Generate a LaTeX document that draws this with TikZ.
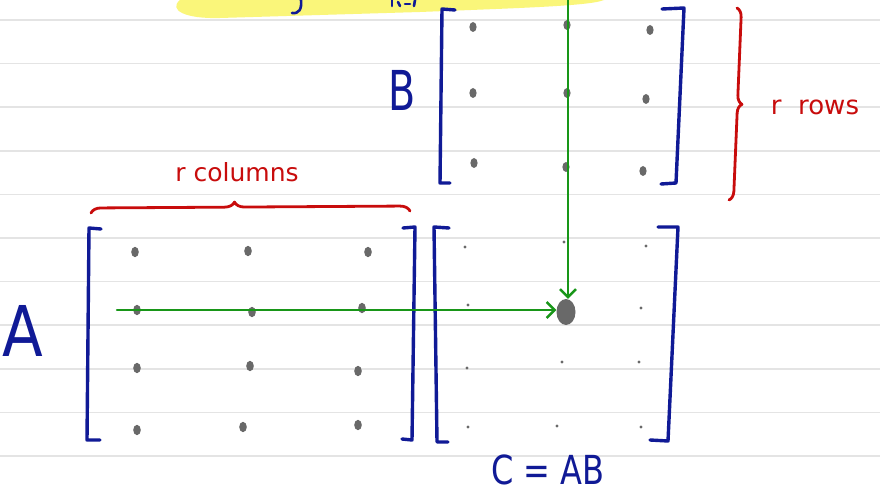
\documentclass[tikz,border=0pt]{standalone}
\usepackage{fontspec}
\setmainfont{DejaVu Sans}
\usepackage{tikz}
\usetikzlibrary{calc, shapes.geometric, positioning, decorations.pathreplacing, arrows.meta}

\definecolor{inkblue}{RGB}{16,26,150}
\definecolor{inkred}{RGB}{200,12,12}
\definecolor{inkgreen}{RGB}{24,150,24}
\definecolor{dotgray}{RGB}{105,105,105}
\definecolor{rulegray}{RGB}{228,228,228}
\definecolor{hiyellow}{RGB}{250,246,122}

\begin{document}
\begin{tikzpicture}[x=1pt, y=-1pt, >={Straight Barb[length=8pt,width=16pt]},
    line cap=round, line join=round,
    bracket/.style={draw=inkblue, line width=3.4pt},
    redbrace/.style={draw=inkred, line width=2.8pt, decorate},
    greenarrow/.style={draw=inkgreen, line width=2.4pt, ->},
    bigdot/.style={ellipse, fill=dotgray, minimum width=19pt, minimum height=26pt, inner sep=0pt},
    lbl/.style={inkblue, inner sep=0pt}]

    % =================================================================
    % 1. TRANG GIAY KE DONG
    % =================================================================
    \useasboundingbox (0,0) rectangle (880,497);
    \fill[white] (0,0) rectangle (880,497);
    \foreach \k in {0,...,10}
        \draw[rulegray, line width=1.5pt] (0,{20+43.6*\k}) -- (880,{20+43.6*\k});

    % vet da quang phia tren
    \fill[hiyellow] (180,0) .. controls (168,10) and (185,19) .. (220,18)
        -- (420,12) .. controls (520,8) and (590,6) .. (604,0) -- cycle;
    \draw[inkblue, line width=2.6pt] (301,0) .. controls (302,9) and (299,14) .. (292,13);
    \draw[inkblue, line width=2.6pt] (392,0) -- (392,6);
    \draw[inkblue, line width=2.6pt] (398,2) -- (400,6);
    \draw[inkblue, line width=2.6pt] (405,4) -- (410,4);
    \draw[inkblue, line width=2.6pt] (415,0) -- (414,6);

    % =================================================================
    % 2. CAC NGOAC VUONG CUA MA TRAN
    % =================================================================
    % ma tran B
    \draw[bracket] (455,10) -- (442,9) -- (440,183) -- (450,183);
    \draw[bracket] (662,9) -- (684,8) -- (676,183) -- (661,184);
    % ma tran A
    \draw[bracket] (101,229) -- (89,228) -- (87,440) -- (100,440);
    \draw[bracket] (403,228) -- (415,227) -- (412,440) -- (402,439);
    % ma tran C
    \draw[bracket] (449,228) -- (434,227) -- (437,442) -- (448,442);
    \draw[bracket] (658,227) -- (678,227) -- (668,441) -- (650,440);

    % =================================================================
    % 3. CAC PHAN TU (CHAM TRON XAM)
    % =================================================================
    \foreach \p in {(473,27),(567,25),(650,30),(473,93),(567,93),(646,99),
                    (474,163),(566,167),(643,171)}
        \fill[dotgray] \p ellipse (3.6 and 5);
    \foreach \p in {(135,252),(248,251),(368,252),(137,310),(252,312),(362,308),
                    (137,368),(250,366),(358,371),(137,430),(243,427),(358,425)}
        \fill[dotgray] \p ellipse (3.8 and 5.2);
    \foreach \p in {(465,247),(564,242),(646,246),(468,305),(641,308),
                    (467,368),(562,362),(639,362),(468,427),(557,426),(641,427)}
        \fill[dotgray] \p circle (1.6);
    \node[bigdot] (c22) at (566,312) {};

    % =================================================================
    % 4. MUI TEN XANH: HANG CUA A, COT CUA B
    % =================================================================
    \coordinate (arow) at (117,310);
    \coordinate (bcol) at (568,0);
    \draw[greenarrow] (arow) -- (arow -| c22.west);
    \draw[greenarrow] (bcol) -- (bcol |- c22.north);

    % =================================================================
    % 5. NGOAC NHON VA NHAN
    % =================================================================
    \draw[redbrace, decoration={brace, amplitude=10pt, aspect=0.45}] (91,213) -- (410,211);
    \draw[redbrace, decoration={brace, amplitude=9pt}] (737,8) -- (729,200);

    \node[inkred, font=\fontsize{25}{25}\selectfont] (rcols) at (237,172) {r columns};
    \node[inkred, font=\fontsize{26}{26}\selectfont] (rrows) at (815,107) {r\ \ rows};

    \node[lbl, font=\fontsize{55}{55}\selectfont] (Blbl) at (402,90) {\scalebox{0.72}[1]{B}};
    \node[lbl, font=\fontsize{70}{70}\selectfont] (Albl) at (23,331) {\scalebox{0.85}[1]{A}};
    \node[lbl, font=\fontsize{40}{40}\selectfont] (Clbl) at (548,470) {\scalebox{0.8}[1]{C = AB}};

\end{tikzpicture}
\end{document}
